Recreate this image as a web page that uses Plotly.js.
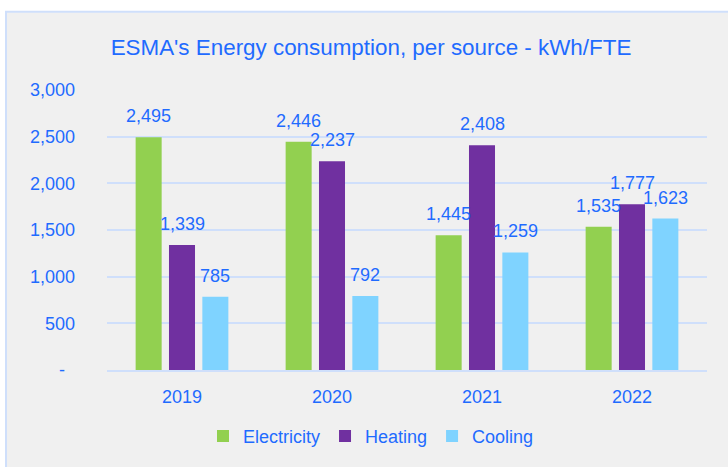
<!DOCTYPE html>
<html>
<head>
<meta charset="utf-8">
<script src="https://cdn.plot.ly/plotly-3.0.1.min.js"></script>
<style>html,body{margin:0;padding:0;background:#fff;}#chart{width:728px;height:467px;}</style>
</head>
<body>
<div id="chart"></div>
<script>
const years = ['2019', '2020', '2021', '2022'];
const seriesNames = ['Electricity', 'Heating', 'Cooling'];
const electricity = [2495, 2446, 1445, 1535];
const heating = [1339, 2237, 2408, 1777];
const cooling = [785, 792, 1259, 1623];
const yTickVals = [0, 500, 1000, 1500, 2000, 2500, 3000];
const yTickText = ['-\u00a0\u00a0', '500', '1,000', '1,500', '2,000', '2,500', '3,000'];

const colors = ['#92d050', '#7030a0', '#7fd3ff'];
const textBlue = '#1f6bff';
const seriesValues = [electricity, heating, cooling];

const traces = seriesValues.map((vals, i) => ({
  type: 'bar',
  name: seriesNames[i],
  x: years,
  y: vals,
  marker: {color: colors[i], line: {width: 0}},
  hoverinfo: 'skip'
}));

const fmt = v => v.toLocaleString('en-US');
const annotations = [];
seriesValues.forEach((vals, i) => {
  vals.forEach((v, j) => {
    annotations.push({
      x: j, y: v, xref: 'x', yref: 'y',
      xshift: (i - 1) * 33.33, yshift: 21,
      text: fmt(v), showarrow: false,
      xanchor: 'center', yanchor: 'middle',
      font: {family: 'Liberation Sans, Arial, sans-serif', size: 18, color: textBlue}
    });
  });
});

const layout = {
  width: 728, height: 467,
  margin: {l: 107, r: 21, t: 90, b: 94},
  paper_bgcolor: '#ffffff',
  plot_bgcolor: 'rgba(0,0,0,0)',
  font: {family: 'Liberation Sans, Arial, sans-serif', size: 18, color: textBlue},
  title: {
    text: "ESMA's Energy consumption, per source - kWh/FTE",
    font: {family: 'Liberation Sans, Arial, sans-serif', size: 22.4, color: textBlue},
    xref: 'container', x: 0.5096, xanchor: 'center',
    yref: 'container', y: 1 - 47 / 467, yanchor: 'middle'
  },
  barmode: 'group',
  bargap: 0.333,
  bargroupgap: 0.22,
  xaxis: {
    type: 'category',
    categoryarray: years, categoryorder: 'array',
    range: [-0.5, years.length - 0.5],
    autorange: false,
    showgrid: false,
    showline: true, linecolor: '#cfdffb', linewidth: 2,
    ticks: '', ticklabelstandoff: 9,
    tickfont: {size: 18, color: textBlue},
    fixedrange: true
  },
  yaxis: {
    range: [0, 3000], autorange: false,
    tickvals: yTickVals, ticktext: yTickText,
    showgrid: true, gridcolor: '#cfdffb', gridwidth: 2,
    zeroline: false, showline: false,
    ticks: '', ticklabelstandoff: 31,
    tickfont: {size: 18, color: textBlue},
    fixedrange: true
  },
  legend: {
    orientation: 'h',
    x: 0.44, xanchor: 'center',
    y: -0.237, yanchor: 'middle',
    font: {size: 18, color: textBlue},
    bgcolor: 'rgba(0,0,0,0)',
    traceorder: 'normal'
  },
  shapes: [{
    type: 'rect', xref: 'paper', yref: 'paper',
    x0: (6 - 107) / 600, x1: 1.2,
    y0: -0.5, y1: (373 - 11) / 283,
    fillcolor: '#f0f0f0',
    line: {color: '#cfdffb', width: 2},
    layer: 'below'
  }],
  annotations: annotations,
  showlegend: true
};

Plotly.newPlot('chart', traces, layout, {displayModeBar: false, staticPlot: true});
</script>
</body>
</html>
